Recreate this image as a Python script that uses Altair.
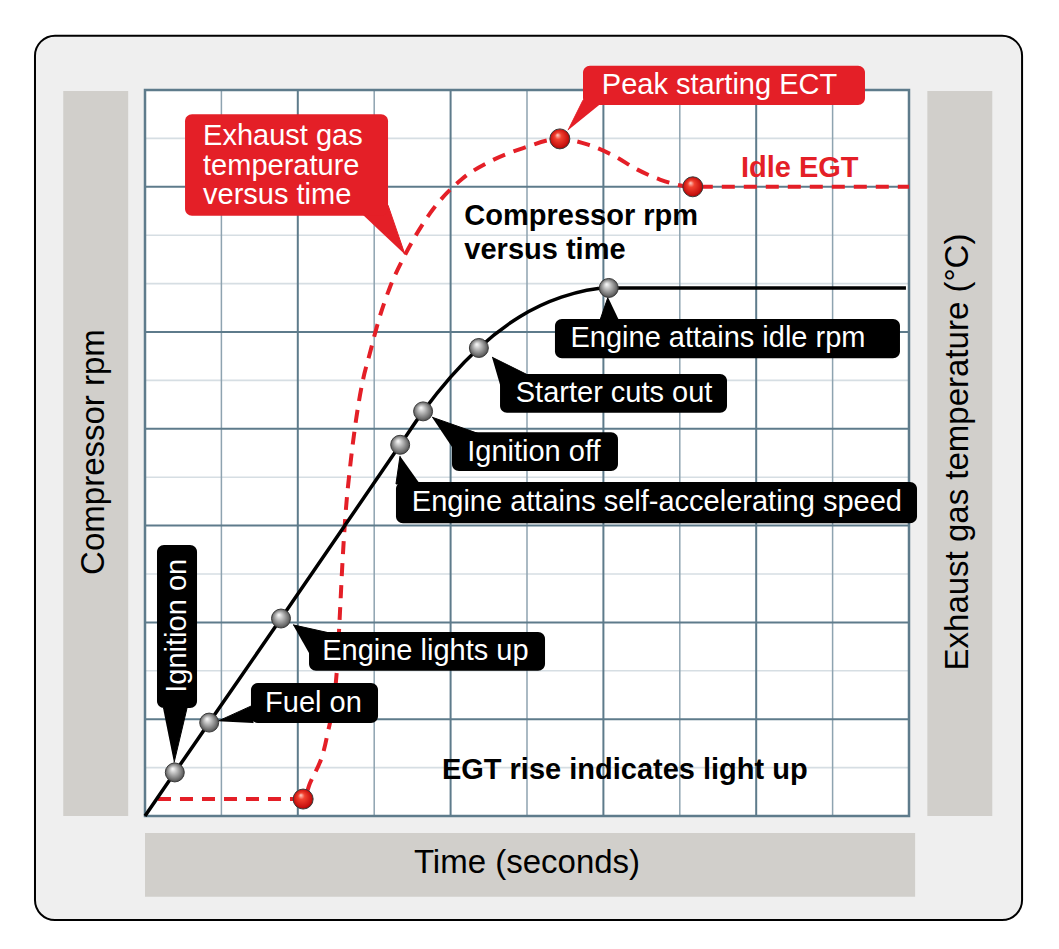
import altair as alt
import pandas as pd

FONT = "Liberation Sans"
RED = "#e41f27"
GRID_DARK = "#5e7b8b"
GRID_MID = "#8ea3b0"
GRID_LIGHT = "#d6dee3"
PANEL = "#d1cfcb"

# ---- scale set-up (grid units: 10 time cells x 15 value cells) ----
W, H = 1040, 925
X_DOMAIN = [-1.7932, 11.8194]
Y_DOMAIN = [-2.4174, 16.6942]

# ---- compressor rpm versus time ----
rpm_time = [0.0, 0.39, 0.84, 1.78, 3.34, 3.64, 4.37, 4.90, 5.45, 6.07, 9.96]
rpm_value = [0.0, 0.90, 1.93, 4.08, 7.67, 8.36, 9.67, 10.31, 10.72, 10.91, 10.91]

# events on the rpm curve
event_time = [0.39, 0.84, 1.78, 3.34, 3.64, 4.37, 6.07]
event_rpm = [0.90, 1.93, 4.08, 7.67, 8.36, 9.67, 10.91]

# ---- exhaust gas temperature versus time ----
egt_time = [0.17, 2.07, 2.16, 2.38, 2.51, 2.552, 2.585, 2.624, 2.683, 2.762, 2.845,
            2.945, 3.06, 3.20, 3.40, 3.73, 4.149, 4.55, 4.95, 5.43,
            5.80, 6.15, 6.44, 6.74, 7.17, 10.0]
egt_value = [0.35, 0.35, 0.68, 1.63, 2.98, 4.21, 5.25, 6.22, 7.19, 8.18, 8.95,
             9.57, 10.25, 10.90, 11.58, 12.45, 13.16, 13.55, 13.80, 13.99,
             13.87, 13.63, 13.36, 13.15, 13.00, 13.00]

egt_event_time = [2.07, 5.43, 7.17]
egt_event_value = [0.35, 13.99, 13.00]

# ---- grid ----
grid_major_t = [2, 4, 6, 8]
grid_minor_t = [1, 3, 5, 7, 9]
grid_major_v = [2, 4, 6, 8, 10, 13]
grid_minor_v = [1, 3, 5, 7, 9, 11, 12, 14]

# ---- black callouts ----
black_box_t1 = [0.157, 1.387, 2.147, 3.285, 4.018, 4.647, 5.366]
black_box_t2 = [0.681, 3.050, 5.236, 10.105, 6.191, 7.618, 9.882]
black_box_v1 = [5.60, 2.75, 3.80, 6.90, 7.93, 9.13, 10.27]
black_box_v2 = [2.23, 1.92, 3.00, 6.05, 7.13, 8.33, 9.46]

black_text = ["Fuel on", "Engine lights up", "Engine attains self-accelerating speed",
              "Ignition off", "Starter cuts out", "Engine attains idle rpm"]
black_text_t = [2.205, 3.67, 6.70, 5.09, 6.14, 7.50]
black_text_v = [2.33, 3.41, 6.49, 7.53, 8.73, 9.87]

vertical_text = ["Ignition on"]
vertical_text_t = [0.42]
vertical_text_v = [3.93]

black_ptr_t = [[0.236, 0.550, 0.380], [0.955, 1.414, 1.414], [1.937, 2.421, 2.160],
               [3.338, 3.285, 3.599], [3.757, 4.385, 4.045], [4.542, 5.039, 4.686],
               [6.06, 5.95, 6.21]]
black_ptr_v = [[2.23, 2.23, 1.10], [1.96, 2.29, 1.92], [3.95, 3.78, 3.33],
               [7.44, 6.86, 6.86], [8.24, 7.89, 7.56], [9.48, 9.09, 8.70],
               [10.72, 10.22, 10.22]]

# ---- red callouts ----
red_box_t1 = [0.524, 5.733]
red_box_t2 = [3.181, 9.424]
red_box_v1 = [14.50, 15.50]
red_box_v2 = [12.40, 14.69]

red_lines = ["Exhaust gas", "temperature", "versus time"]
red_lines_t = [0.76, 0.76, 0.76]
red_lines_v = [14.05, 13.43, 12.83]

peak_text = ["Peak starting ECT"]
peak_text_t = [7.52]
peak_text_v = [15.10]

red_ptr_t = [[2.840, 3.181, 3.403], [5.537, 5.733, 6.021]]
red_ptr_v = [[12.44, 12.62, 11.60], [14.17, 14.79, 14.79]]

# ---- plain annotations ----
idle_text = ["Idle EGT"]
idle_t = [8.57]
idle_v = [13.39]

rpm_title = ["Compressor rpm", "versus time"]
rpm_title_t = [4.18, 4.18]
rpm_title_v = [12.40, 11.69]

rise_text = ["EGT rise indicates light up"]
rise_t = [6.28]
rise_v = [0.96]

# ---- frame and side panels ----
frame_t = [-1.44, 11.48]
frame_v = [16.12, -2.15]
panel_t1 = [-1.07, 10.24, 0.0]
panel_t2 = [-0.22, 11.09, 10.08]
panel_v1 = [14.98, 14.98, -0.35]
panel_v2 = [0.0, 0.0, -1.67]

title_text = ["Compressor rpm", "Exhaust gas temperature (°C)"]
title_t = [-0.668, 10.635]
title_v = [7.52, 7.52]
time_title = ["Time (seconds)"]
time_title_t = [5.0]
time_title_v = [-0.97]

# ================= build =================
xs = alt.Scale(domain=X_DOMAIN, nice=False, zero=False)
ys = alt.Scale(domain=Y_DOMAIN, nice=False, zero=False)


def X(f):
    return alt.X(f, type="quantitative", scale=xs, axis=None)


def Y(f):
    return alt.Y(f, type="quantitative", scale=ys, axis=None)


def rect_layer(t1, t2, v1, v2, **mark):
    df = pd.DataFrame({"t1": t1, "t2": t2, "v1": v1, "v2": v2})
    return alt.Chart(df).mark_rect(**mark).encode(
        x=X("t1"), x2=alt.X2("t2"), y=Y("v1"), y2=alt.Y2("v2"))


def vrules(ts, color, width):
    df = pd.DataFrame({"t": ts, "a": [0] * len(ts), "b": [15] * len(ts)})
    return alt.Chart(df).mark_rule(color=color, strokeWidth=width).encode(
        x=X("t"), y=Y("a"), y2=alt.Y2("b"))


def hrules(vs, color, width):
    df = pd.DataFrame({"v": vs, "a": [0] * len(vs), "b": [10] * len(vs)})
    return alt.Chart(df).mark_rule(color=color, strokeWidth=width).encode(
        y=Y("v"), x=X("a"), x2=alt.X2("b"))


def polygons(ts, vs, color):
    rows = []
    for i, (tt, vv) in enumerate(zip(ts, vs)):
        for k, (a, b) in enumerate(zip(tt, vv)):
            rows.append({"id": i, "k": k, "t": a, "v": b})
    df = pd.DataFrame(rows)
    return alt.Chart(df).mark_line(fill=color, stroke=color, strokeWidth=1).encode(
        x=X("t"), y=Y("v"), detail="id:N", order="k:Q")


def text_layer(texts, ts, vs, **mark):
    df = pd.DataFrame({"label": texts, "t": ts, "v": vs})
    return alt.Chart(df).mark_text(font=FONT, **mark).encode(
        x=X("t"), y=Y("v"), text="label:N")


def sphere(ts, vs, stops, size):
    df = pd.DataFrame({"t": ts, "v": vs})
    grad = alt.Gradient(
        gradient="radial",
        stops=[alt.GradientStop(color=c, offset=o) for o, c in stops],
        x1=0.38, y1=0.3, r1=0.0, x2=0.5, y2=0.5, r2=0.55)
    return alt.Chart(df).mark_point(
        shape="circle", filled=True, fill=grad, stroke="#3a3a3a", strokeWidth=1,
        size=size, opacity=1).encode(x=X("t"), y=Y("v"))


frame = rect_layer([frame_t[0]], [frame_t[1]], [frame_v[0]], [frame_v[1]],
                   fill="#efefef", stroke="black", strokeWidth=2, cornerRadius=20)
panels = rect_layer(panel_t1, panel_t2, panel_v1, panel_v2, color=PANEL)
plot_bg = rect_layer([0], [10], [15], [0], color="white")
plot_border = rect_layer([0], [10], [15], [0], fillOpacity=0,
                         stroke=GRID_DARK, strokeWidth=2.5)

egt_df = pd.DataFrame({"t": egt_time, "v": egt_value})
egt_line = alt.Chart(egt_df).mark_line(
    color=RED, strokeWidth=4, strokeDash=[13, 9], interpolate="monotone").encode(
    x=X("t"), y=Y("v"))

rpm_df = pd.DataFrame({"t": rpm_time, "v": rpm_value})
rpm_line = alt.Chart(rpm_df).mark_line(
    color="black", strokeWidth=3.5, interpolate="monotone").encode(
    x=X("t"), y=Y("v"))

gray_stops = [(0, "#ffffff"), (0.35, "#bdbdbd"), (0.8, "#6a6a6a"), (1, "#3c3c3c")]
red_stops = [(0, "#ffd6cc"), (0.3, "#f2412f"), (0.8, "#c8120f"), (1, "#8a0000")]

chart = alt.layer(
    frame,
    panels,
    plot_bg,
    hrules(grid_minor_v, GRID_LIGHT, 1.6),
    vrules(grid_minor_t, GRID_MID, 1.5),
    hrules(grid_major_v, GRID_DARK, 2),
    vrules(grid_major_t, GRID_DARK, 2),
    plot_border,
    egt_line,
    rpm_line,
    polygons(black_ptr_t, black_ptr_v, "black"),
    rect_layer(black_box_t1, black_box_t2, black_box_v1, black_box_v2,
               color="black", cornerRadius=7),
    polygons(red_ptr_t, red_ptr_v, RED),
    rect_layer(red_box_t1, red_box_t2, red_box_v1, red_box_v2,
               color=RED, cornerRadius=7),
    sphere(event_time, event_rpm, gray_stops, 360),
    sphere(egt_event_time, egt_event_value, red_stops, 400),
    text_layer(black_text, black_text_t, black_text_v,
               fontSize=29, color="white", align="center", baseline="middle"),
    text_layer(vertical_text, vertical_text_t, vertical_text_v,
               fontSize=29, color="white", align="center", baseline="middle", angle=270),
    text_layer(red_lines, red_lines_t, red_lines_v,
               fontSize=29, color="white", align="left", baseline="middle"),
    text_layer(peak_text, peak_text_t, peak_text_v,
               fontSize=29, color="white", align="center", baseline="middle"),
    text_layer(idle_text, idle_t, idle_v,
               fontSize=29, fontWeight="bold", color=RED, align="center", baseline="middle"),
    text_layer(rpm_title, rpm_title_t, rpm_title_v,
               fontSize=29, fontWeight="bold", color="black", align="left", baseline="middle"),
    text_layer(rise_text, rise_t, rise_v,
               fontSize=29, fontWeight="bold", color="black", align="center", baseline="middle"),
    text_layer(title_text, title_t, title_v,
               fontSize=33, color="black", align="center", baseline="middle", angle=270),
    text_layer(time_title, time_title_t, time_title_v,
               fontSize=33, color="black", align="center", baseline="middle"),
).properties(
    width=W, height=H, padding=0, autosize="none", background="white"
).configure_view(strokeWidth=0)

chart.save("out.html", embed_options={"renderer": "svg", "actions": False})
